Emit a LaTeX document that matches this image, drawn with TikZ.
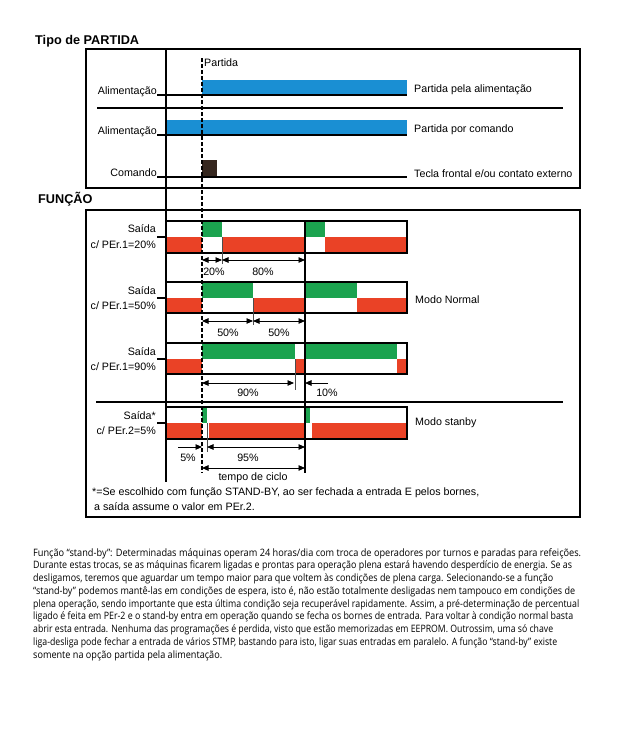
\documentclass[tikz,border=0pt]{standalone}
\usepackage{fontspec}
\usepackage{graphicx}
\setmainfont{Liberation Sans}
\newfontfamily\parafont{Open Sans}
\usetikzlibrary{arrows.meta}
\definecolor{cblue}{HTML}{1A8FD3}
\definecolor{cgreen}{HTML}{1BA34F}
\definecolor{cred}{HTML}{EA4226}
\definecolor{cbrown}{HTML}{35261E}
\newcommand\pline[3]{\node[anchor=base west,inner sep=0pt] (p#1) at (33,{556+12.75*(#1-1)}) {\resizebox{#2pt}{\height}{\parafont\fontsize{10.2}{12}\selectfont #3}};}
\begin{document}
\begin{tikzpicture}[x=1pt,y=-1pt,
  lbl/.style={font=\fontsize{10.7}{12}\selectfont, inner sep=0pt},
  ttl/.style={font=\bfseries\fontsize{12.7}{14}\selectfont, inner sep=0pt, anchor=base west},
  frame/.style={line width=1.6pt},
  thin/.style={line width=1.1pt},
  dim/.style={line width=0.9pt, {Triangle[length=6.5pt,width=5.5pt]}-{Triangle[length=6.5pt,width=5.5pt]}},
  dimr/.style={line width=0.9pt, -{Triangle[length=6.5pt,width=5.5pt]}},
  tick/.style={line width=0.7pt, draw=black!70}]
\useasboundingbox (0,0) rectangle (640,732);
\fill[white] (0,0) rectangle (640,732);

% ---------- titles ----------
\node[ttl] (t1) at (35,44) {Tipo de PARTIDA};
\node[ttl] (t2) at (38,203) {FUNÇÃO};

% ---------- frames ----------
\draw[frame] (86,49) rectangle (580,188);
\draw[frame] (86,210) rectangle (580,517);

% ---------- top section ----------
\fill[cblue] (202,80) rectangle (407,95);
\fill[cblue] (166,120) rectangle (407,135);
\fill[cbrown] (202,160) rectangle (217,177);
\draw[thin] (157,95) -- (407,95);
\draw[thin] (157,135) -- (407,135);
\draw[thin] (157,177) -- (407,177);
\draw[thin] (97,108) -- (563,108);

\node[lbl, anchor=base east] (a1) at (157,94) {Alimentação};
\node[lbl, anchor=base east] (a2) at (157,134) {Alimentação};
\node[lbl, anchor=base east] (a3) at (157,176) {Comando};
\node[lbl, anchor=base west] (pt) at (204,66) {Partida};
\node[lbl, anchor=base west] (r1) at (414,92) {Partida pela alimentação};
\node[lbl, anchor=base west] (r2) at (414,132) {Partida por comando};
\node[lbl, anchor=base west] (r3) at (414,177) {Tecla frontal e/ou contato externo};

% ---------- function rows: fills ----------
% row 1 (20%)
\fill[cred] (166,237) rectangle (202,253);
\fill[cgreen] (202,221) rectangle (222,237);
\fill[cred] (222,237) rectangle (305,253);
\fill[cgreen] (305,221) rectangle (325,237);
\fill[cred] (325,237) rectangle (407,253);
% row 2 (50%)
\fill[cred] (166,298) rectangle (202,313);
\fill[cgreen] (202,282) rectangle (253,298);
\fill[cred] (253,298) rectangle (305,313);
\fill[cgreen] (305,282) rectangle (357,298);
\fill[cred] (357,298) rectangle (407,313);
% row 3 (90%)
\fill[cred] (166,359) rectangle (202,374);
\fill[cgreen] (202,343) rectangle (295,359);
\fill[cred] (295,359) rectangle (305,374);
\fill[cgreen] (305,343) rectangle (397,359);
\fill[cred] (397,359) rectangle (407,374);
% row 4 (5%)
\fill[cred] (166,423) rectangle (202,439);
\fill[cgreen] (202,407) rectangle (207,423);
\fill[cred] (208.5,423) rectangle (305,439);
\fill[cgreen] (305,407) rectangle (310,423);
\fill[cred] (311.5,423) rectangle (407,439);

% row outlines
\foreach \T/\B in {221/253, 282/313, 343/374, 407/439}{
  \draw[thin] (166,\T) -- (407,\T) -- (407,\B) -- (166,\B);
}
% leaders
\foreach \M in {237,298,359,423}{ \draw[thin] (157,\M) -- (166,\M); }

% separator
\draw[thin] (96,402) -- (563,402);

% main vertical lines
\draw[line width=1.1pt] (166,49) -- (166,482);
\draw[line width=1.1pt, dash pattern=on 4pt off 2pt] (202,58) -- (202,473);
\draw[line width=1.1pt] (305,221) -- (305,473);

% ticks
\draw[tick] (222,237) -- (222,264);
\draw[tick] (253,298) -- (253,325);
\draw[tick] (295,359) -- (295,390);
\draw[tick] (207,423) -- (207,452);

% row labels
\node[lbl, anchor=east] (s1) at (156,229) {Saída};
\node[lbl, anchor=east] (c1) at (156,245) {c/ PEr.1=20\%};
\node[lbl, anchor=east] (s2) at (156,291) {Saída};
\node[lbl, anchor=east] (c2) at (156,306) {c/ PEr.1=50\%};
\node[lbl, anchor=east] (s3) at (156,352) {Saída};
\node[lbl, anchor=east] (c3) at (156,367) {c/ PEr.1=90\%};
\node[lbl, anchor=east] (s4) at (156,416) {Saída*};
\node[lbl, anchor=east] (c4) at (156,431) {c/ PEr.2=5\%};
\node[lbl, anchor=west] (mn) at (415,300) {Modo Normal};
\node[lbl, anchor=west] (ms) at (415,423) {Modo stanby};

% dimension arrows
\coordinate (d1a) at (202,260); \coordinate (d1b) at (222,260); \coordinate (d1c) at (305,260);
\draw[dim] (d1a) -- (d1b);
\draw[dim] (d1b) -- (d1c);
\node[lbl] (v20) at (214,272) {20\%};
\node[lbl] (v80) at (263,272) {80\%};

\coordinate (d2a) at (202,321); \coordinate (d2b) at (253,321); \coordinate (d2c) at (305,321);
\draw[dim] (d2a) -- (d2b);
\draw[dim] (d2b) -- (d2c);
\node[lbl] (v50a) at (228,333) {50\%};
\node[lbl] (v50b) at (279,333) {50\%};

\coordinate (d3a) at (202,383); \coordinate (d3b) at (294,383);
\coordinate (d3c) at (328,383); \coordinate (d3d) at (305,383);
\draw[dim] (d3a) -- (d3b);
\draw[dimr] (d3c) -- (d3d);
\node[lbl] (v90) at (248,393) {90\%};
\node[lbl] (v10) at (327,393) {10\%};

\coordinate (d4a) at (178,447); \coordinate (d4b) at (202,447);
\coordinate (d4c) at (207,447); \coordinate (d4d) at (305,447);
\draw[dimr] (d4a) -- (d4b);
\draw[dim] (d4c) -- (d4d);
\node[lbl] (v5) at (188,458) {5\%};
\node[lbl] (v95) at (248,458) {95\%};

\coordinate (d5a) at (202,468); \coordinate (d5b) at (305,468);
\draw[dim] (d5a) -- (d5b);
\node[lbl] (tc) at (253,478) {tempo de ciclo};

% footnote
\node[lbl, anchor=west] (f1) at (92,493) {*=Se escolhido com função STAND-BY, ao ser fechada a entrada E pelos bornes,};
\node[lbl, anchor=west] (f2) at (94,507) {a saída assume o valor em PEr.2.};

% ---------- paragraph ----------
\pline{1}{548}{Função “stand-by”: Determinadas máquinas operam 24 horas/dia com troca de operadores por turnos e paradas para refeições.}
\pline{2}{539}{Durante estas trocas, se as máquinas ficarem ligadas e prontas para operação plena estará havendo desperdício de energia. Se as}
\pline{3}{520}{desligamos, teremos que aguardar um tempo maior para que voltem às condições de plena carga. Selecionando-se a função}
\pline{4}{542}{“stand-by” podemos mantê-las em condições de espera, isto é, não estão totalmente desligadas nem tampouco em condições de}
\pline{5}{546}{plena operação, sendo importante que esta última condição seja recuperável rapidamente. Assim, a pré-determinação de percentual}
\pline{6}{540}{ligado é feita em PEr-2 e o stand-by entra em operação quando se fecha os bornes de entrada. Para voltar à condição normal basta}
\pline{7}{520}{abrir esta entrada. Nenhuma das programações é perdida, visto que estão memorizadas em EEPROM. Outrossim, uma só chave}
\pline{8}{524}{liga-desliga pode fechar a entrada de vários STMP, bastando para isto, ligar suas entradas em paralelo. A função “stand-by” existe}
\pline{9}{189}{somente na opção partida pela alimentação.}
\end{tikzpicture}
\end{document}
